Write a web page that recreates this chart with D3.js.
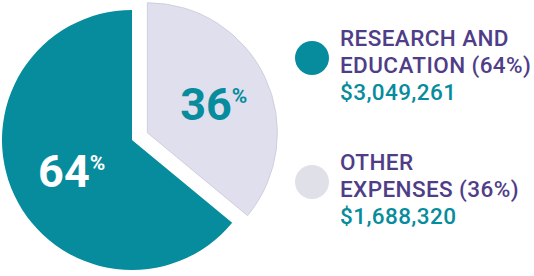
<!DOCTYPE html>
<html>
<head>
<meta charset="utf-8">
<script src="https://cdn.jsdelivr.net/npm/d3@7"></script>
<style>
  body { margin: 0; background: #fff; }
  text { font-family: Roboto, "DejaVu Sans", sans-serif; }
</style>
</head>
<body>
<script>
// data
var categories = ["RESEARCH AND|EDUCATION (64%)", "OTHER|EXPENSES (36%)"];
var percents = [64, 36];
var amounts = ["$3,049,261", "$1,688,320"];
var colors = ["#078c9d", "#dfdfee"];
var legendColors = ["#078c9d", "#dfe0e8"];

var W = 534, H = 276;
var cx = 132, cy = 140, R = 130, explode = 17;

var svg = d3.select("body").append("svg")
    .attr("width", W).attr("height", H);

var data = categories.map(function(c, i) {
    return { name: c, pct: percents[i], amount: amounts[i], color: colors[i], lcolor: legendColors[i] };
});

// start research slice after the 36% slice so "other" sits at 12 o'clock
var start = 2 * Math.PI * percents[1] / 100;
var pie = d3.pie().sort(null).value(function(d) { return d.pct; })
    .startAngle(start).endAngle(start + 2 * Math.PI);
var arcs = pie(data);

var arc = d3.arc().innerRadius(0).outerRadius(R);
var labelArc = d3.arc().innerRadius(70).outerRadius(70);

var g = svg.append("g").attr("transform", "translate(" + cx + "," + cy + ")");

var slices = g.selectAll("g.slice")
    .data(arcs)
    .enter()
    .append("g")
    .attr("class", "slice")
    .attr("transform", function(d, i) {
        if (i == 0) return null;
        var mid = (d.startAngle + d.endAngle) / 2;
        return "translate(" + (Math.sin(mid) * explode) + "," + (-Math.cos(mid) * explode) + ")";
    });

slices.append("path")
    .attr("d", arc)
    .attr("fill", function(d) { return d.data.color; })
    .attr("stroke", function(d, i) { return i == 1 ? "#cfd0dc" : "none"; })
    .attr("stroke-width", 1);

var lbl = slices.append("text")
    .attr("x", function(d) { return labelArc.centroid(d)[0] + 3; })
    .attr("y", function(d) { return labelArc.centroid(d)[1] + 17; })
    .attr("text-anchor", "middle")
    .attr("font-weight", 700)
    .attr("fill", function(d, i) { return i == 0 ? "#ffffff" : "#078c9d"; });
lbl.append("tspan")
    .attr("font-size", 45)
    .text(function(d) { return d.data.pct; });
lbl.append("tspan")
    .attr("font-size", 21)
    .attr("dx", 0)
    .attr("dy", -17)
    .text("%");

// legend
var legend = svg.selectAll("g.legend")
    .data(data)
    .enter()
    .append("g")
    .attr("class", "legend")
    .attr("transform", function(d, i) { return "translate(0," + (i * 124) + ")"; });

legend.append("circle")
    .attr("cx", 312).attr("cy", 58).attr("r", 17)
    .attr("fill", function(d) { return d.lcolor; });

legend.each(function(d) {
    var lines = d.name.split("|");
    var sel = d3.select(this);
    lines.forEach(function(l, j) {
        sel.append("text")
            .attr("x", 340).attr("y", 46 + j * 27)
            .attr("font-size", 22.5)
            .attr("font-weight", 500)
            .attr("letter-spacing", 0.4)
            .attr("fill", "#4f3e87")
            .text(l);
    });
    sel.append("text")
        .attr("x", 340).attr("y", 46 + lines.length * 27)
        .attr("font-size", 22.5)
        .attr("font-weight", 500)
        .attr("letter-spacing", 0.4)
        .attr("fill", "#078c9d")
        .text(d.amount);
});
</script>
</body>
</html>
